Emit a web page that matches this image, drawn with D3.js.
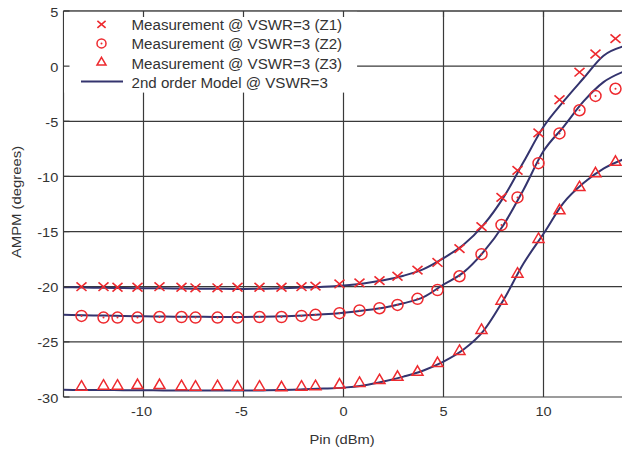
<!DOCTYPE html>
<html>
<head>
<meta charset="utf-8">
<script src="https://cdn.jsdelivr.net/npm/d3@7"></script>
<style>
  body { margin: 0; background: #fff; }
  text { font-family: "Liberation Sans", Arial, sans-serif; fill: #333; }
</style>
</head>
<body>
<script>
'use strict';

// measured input powers (dBm), shared by the three loads
var pin = [-13.1, -12.0, -11.3, -10.3, -9.2, -8.1, -7.4, -6.3, -5.3, -4.2, -3.1, -2.1, -1.4, -0.2,
  0.8, 1.8, 2.7, 3.7, 4.7, 5.8, 6.9, 7.9, 8.7, 9.75, 10.8, 11.8, 12.6, 13.6];

var measZ1 = [-20.0, -20.0, -20.05, -20.05, -20.0, -20.05, -20.1, -20.1, -20.05, -20.05, -20.05, -20.0,
  -19.95, -19.75, -19.65, -19.45, -19.05, -18.5, -17.8, -16.55, -14.55, -11.9, -9.45, -6.05, -3.05, -0.55, 1.1, 2.5];
var measZ2 = [-22.65, -22.8, -22.8, -22.8, -22.75, -22.75, -22.8, -22.8, -22.8, -22.75, -22.75, -22.65,
  -22.55, -22.4, -22.15, -21.95, -21.65, -21.1, -20.3, -19.05, -17.05, -14.4, -11.9, -8.8, -6.1, -4.0, -2.7, -2.05];
var measZ3 = [-29.1, -29.0, -29.0, -28.95, -28.95, -29.05, -29.1, -29.05, -29.1, -29.1, -29.15, -29.1,
  -29.05, -28.9, -28.75, -28.5, -28.2, -27.75, -26.95, -25.85, -23.95, -21.3, -18.85, -15.7, -13.1, -11.0, -9.75, -8.7];

// 2nd order model, read at every dBm
var modelPin = [-14, -13, -12, -11, -10, -9, -8, -7, -6, -5, -4, -3, -2, -1, 0,
  1, 2, 3, 4, 5, 6, 7, 8, 9, 10, 11, 12, 13, 14];
var modelZ1 = [-20.05, -20.07, -20.1, -20.12, -20.14, -20.15, -20.17, -20.18, -20.19, -20.2, -20.18, -20.14, -20.08, -20.0, -19.88,
  -19.7, -19.42, -19.0, -18.4, -17.4, -16.2, -14.4, -11.9, -8.7, -5.5, -3.2, -1.1, 0.95, 1.8];
var modelZ2 = [-22.55, -22.58, -22.62, -22.65, -22.68, -22.7, -22.72, -22.73, -22.74, -22.74, -22.72, -22.68, -22.6, -22.5, -22.35,
  -22.15, -21.9, -21.5, -20.95, -19.8, -18.7, -16.85, -14.4, -11.2, -7.7, -5.5, -3.2, -1.45, -0.5];
var modelZ3 = [-29.35, -29.36, -29.37, -29.38, -29.39, -29.4, -29.41, -29.42, -29.42, -29.42, -29.4, -29.36, -29.3, -29.24, -29.15,
  -28.95, -28.6, -28.15, -27.6, -26.8, -25.7, -24.0, -21.2, -17.9, -15.2, -12.4, -10.6, -9.3, -8.45];

var xTicks = [-10, -5, 0, 5, 10];
var yTicks = [5, 0, -5, -10, -15, -20, -25, -30];
var legendLabels = ['Measurement @ VSWR=3 (Z1)', 'Measurement @ VSWR=3 (Z2)',
  'Measurement @ VSWR=3 (Z3)', '2nd order Model @ VSWR=3'];

var width = 622, height = 452;
var red = '#ee2a2f', navy = '#34346e', grid = '#3a3a3a';

var svg = d3.select('body').append('svg').attr('width', width).attr('height', height);

var x = d3.scaleLinear().domain([-14, 14]).range([63.5, 623.5]);
var y = d3.scaleLinear().domain([-30, 5]).range([397, 11]);

// the source text is a little wider than Arial, so stretch it sideways
function label(g, tx, ty, str, size, anchor, sx) {
  return g.append('text')
    .attr('transform', 'translate(' + tx + ',' + ty + ') scale(' + sx + ',1)')
    .attr('text-anchor', anchor).style('font-size', size + 'px').text(str);
}

svg.append('clipPath').attr('id', 'plot')
  .append('rect').attr('x', x(-14)).attr('y', y(5)).attr('width', x(14) - x(-14)).attr('height', y(-30) - y(5));

// grid
svg.append('g').selectAll('line').data(xTicks).enter().append('line')
  .attr('x1', function(d) { return x(d); }).attr('x2', function(d) { return x(d); })
  .attr('y1', y(5)).attr('y2', y(-30))
  .attr('stroke', grid).attr('stroke-width', 1.2);
svg.append('g').selectAll('line').data(yTicks).enter().append('line')
  .attr('x1', x(-14)).attr('x2', x(14))
  .attr('y1', function(d) { return y(d); }).attr('y2', function(d) { return y(d); })
  .attr('stroke', grid).attr('stroke-width', 1.2);
svg.append('line').attr('x1', x(-14)).attr('x2', x(-14)).attr('y1', y(5)).attr('y2', y(-30))
  .attr('stroke', grid).attr('stroke-width', 1.2);

var plot = svg.append('g').attr('clip-path', 'url(#plot)');

var line = d3.line()
  .x(function(d) { return x(d[0]); })
  .y(function(d) { return y(d[1]); })
  .curve(d3.curveMonotoneX);

[modelZ1, modelZ2, modelZ3].forEach(function(vals) {
  plot.append('path')
    .attr('d', line(d3.zip(modelPin, vals)))
    .attr('fill', 'none').attr('stroke', navy).attr('stroke-width', 2);
});

function cross(g, k) {
  var w = 5 * k, h = 4.3 * k;
  g.append('path').attr('d', 'M' + (-w) + ',' + (-h) + 'L' + w + ',' + h + 'M' + (-w) + ',' + h + 'L' + w + ',' + (-h))
    .attr('stroke', red).attr('stroke-width', 1.6).attr('fill', 'none');
}
function ring(g, k) {
  g.append('circle').attr('r', 5.5 * k).attr('fill', 'none').attr('stroke', red).attr('stroke-width', 1.5);
  g.append('circle').attr('r', 1).attr('fill', red);
}
function triangle(g, k) {
  var w = 5.5 * k, h = 9.5 * k;
  g.append('path').attr('d', 'M0,' + (-h * 2 / 3) + 'L' + w + ',' + (h / 3) + 'L' + (-w) + ',' + (h / 3) + 'Z')
    .attr('fill', 'none').attr('stroke', red).attr('stroke-width', 1.5);
}

var markers = [cross, ring, triangle];
[measZ1, measZ2, measZ3].forEach(function(vals, i) {
  plot.append('g').selectAll('g').data(d3.zip(pin, vals)).enter().append('g')
    .attr('transform', function(d) { return 'translate(' + x(d[0]) + ',' + y(d[1]) + ')'; })
    .each(function() { markers[i](d3.select(this), 1); });
});

// legend box
var leg = svg.append('g');
leg.append('rect').attr('x', x(-14) + 0.6).attr('y', y(5) + 0.6).attr('width', 293).attr('height', 81).attr('fill', '#fff');
legendLabels.forEach(function(str, i) {
  var cy = 24.3 + i * 19.1;
  var g = leg.append('g').attr('transform', 'translate(101.5,' + cy + ')');
  if (i < 3) markers[i](g, 0.82);
  else g.append('line').attr('x1', -20.5).attr('x2', 21.5).attr('stroke', navy).attr('stroke-width', 2);
  label(leg, 131.5, cy + 6, str, 14, 'start', 1.08);
});

// top border and inward ticks
svg.append('line').attr('x1', x(-14)).attr('x2', x(14)).attr('y1', y(5)).attr('y2', y(5))
  .attr('stroke', grid).attr('stroke-width', 1.2);
svg.append('g').selectAll('line').data(xTicks).enter().append('line')
  .attr('x1', function(d) { return x(d); }).attr('x2', function(d) { return x(d); })
  .attr('y1', y(5)).attr('y2', y(5) + 6)
  .attr('stroke', grid).attr('stroke-width', 1.2);
svg.append('g').selectAll('line').data(yTicks).enter().append('line')
  .attr('x1', x(-14)).attr('x2', x(-14) + 6)
  .attr('y1', function(d) { return y(d); }).attr('y2', function(d) { return y(d); })
  .attr('stroke', grid).attr('stroke-width', 1.2);

// tick labels
var xl = svg.append('g');
xTicks.forEach(function(d) { label(xl, x(d) - (d < 0 ? 2 : 0), 416, d, 13, 'middle', 1.12); });
var yl = svg.append('g');
yTicks.forEach(function(d) { label(yl, 58.3, y(d) + 5.5, d, 13, 'end', 1.12); });

label(svg, 342, 443.5, 'Pin (dBm)', 13, 'middle', 1.13);
svg.append('text').attr('transform', 'translate(20.5,202) rotate(-90) scale(1.1,1)').attr('text-anchor', 'middle')
  .style('font-size', '13.5px').text('AMPM (degrees)');
</script>
</body>
</html>
